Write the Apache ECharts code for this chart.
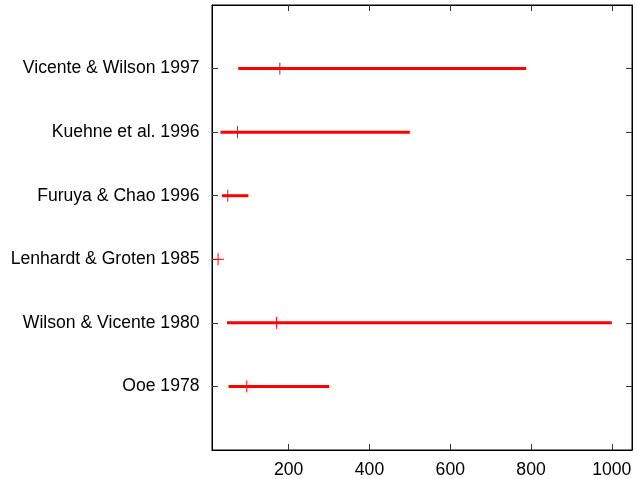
<!DOCTYPE html>
<html>
<head>
<meta charset="utf-8">
<script src="https://cdn.jsdelivr.net/npm/echarts@6/dist/echarts.min.js"></script>
<style>
  html, body { margin: 0; padding: 0; background: #fff; }
  #chart { width: 637px; height: 479px; }
</style>
</head>
<body>
<div id="chart"></div>
<script>
// Studies, bottom to top
const studies = [
  'Ooe 1978',
  'Wilson & Vicente 1980',
  'Lenhardt & Groten 1985',
  'Furuya & Chao 1996',
  'Kuehne et al. 1996',
  'Vicente & Wilson 1997'
];
// Range low / high and central estimate for each study
const rangeLow  = [51, 47, null, 35, 31, 75];
const rangeHigh = [300, 1000, null, 100, 500, 788];
const centre    = [96, 170, 25, 49, 73, 178];
// Tick values
const xTicks = [200, 400, 600, 800, 1000];
const yTicks = [1, 2, 3, 4, 5, 6];

const rows = studies.map((s, i) => [i + 1, rangeLow[i], rangeHigh[i], centre[i]]);

const chart = echarts.init(document.getElementById('chart'), null, { renderer: 'canvas' });

const font = 'Liberation Sans, Arial, Helvetica, sans-serif';
const tickStyle = { color: '#333', width: 1 };

function frameAxis(pos, ticks, extra) {
  return Object.assign({
    type: 'value', position: pos,
    axisLine: { show: true, onZero: false, lineStyle: { color: '#000', width: 1 } },
    axisTick: { show: true, inside: true, length: 6, customValues: ticks, lineStyle: tickStyle },
    axisLabel: { show: false },
    splitLine: { show: false }
  }, extra);
}

chart.setOption({
  animation: false,
  grid: { left: 212, right: 5, top: 5, bottom: 28, show: true, borderColor: '#000', borderWidth: 1 },
  xAxis: [
    frameAxis('bottom', xTicks, {
      min: 10, max: 1050,
      axisLabel: { show: true, customValues: xTicks, color: '#000', fontFamily: font, fontSize: 17.6, margin: 11,
        formatter: v => String(v) }
    }),
    frameAxis('top', xTicks, { min: 10, max: 1050 })
  ],
  yAxis: [
    frameAxis('left', yTicks, {
      min: 0, max: 7,
      axisLabel: {
        show: true, customValues: yTicks, color: '#000', fontFamily: font, fontSize: 17.6, margin: 12.5,
        formatter: v => studies[Math.round(v) - 1] || ''
      }
    }),
    frameAxis('right', yTicks, { min: 0, max: 7 })
  ],
  series: [{
    type: 'custom',
    xAxisIndex: 0,
    yAxisIndex: 0,
    data: rows,
    clip: false,
    renderItem: function (params, api) {
      const y = api.value(0);
      const lo = api.value(1);
      const hi = api.value(2);
      const c = api.value(3);
      const children = [];
      if (!isNaN(lo) && !isNaN(hi)) {
        const p0 = api.coord([lo, y]);
        const p1 = api.coord([hi, y]);
        children.push({
          type: 'line',
          shape: { x1: p0[0], y1: p0[1], x2: p1[0], y2: p1[1] },
          style: { stroke: '#ff0000', lineWidth: 3 }
        });
      }
      const pc = api.coord([c, y]);
      children.push({
        type: 'line',
        shape: { x1: pc[0] - 6, y1: pc[1], x2: pc[0] + 6, y2: pc[1] },
        style: { stroke: '#ff0000', lineWidth: 1 }
      });
      children.push({
        type: 'line',
        shape: { x1: pc[0], y1: pc[1] - 6, x2: pc[0], y2: pc[1] + 6 },
        style: { stroke: '#ff0000', lineWidth: 1 }
      });
      return { type: 'group', children: children };
    }
  }]
});
</script>
</body>
</html>
